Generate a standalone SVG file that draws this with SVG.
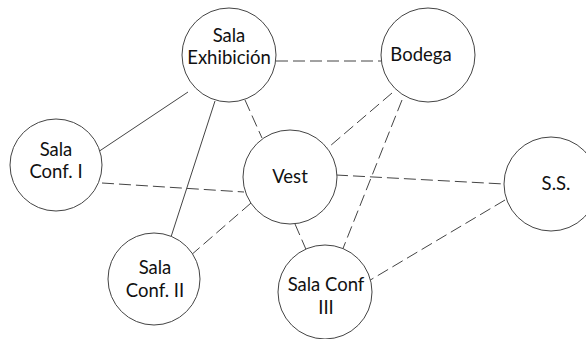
<svg xmlns="http://www.w3.org/2000/svg" width="586" height="339" viewBox="0 0 586 339">
<style>
.n{fill:#fff;stroke:#444;stroke-width:1}
.t{font-family:Lato,"Open Sans",sans-serif;font-size:18.5px;fill:#111;text-anchor:middle}
.s{stroke:#444;stroke-width:1;fill:none}
.d{stroke:#444;stroke-width:1;fill:none;stroke-dasharray:12 5}
</style>
<rect width="586" height="339" fill="#fff"/>
<g id="edges">
<line class="d" x1="276" y1="61" x2="381" y2="61"/>
<line class="s" x1="188" y1="92" x2="98" y2="152"/>
<line class="s" x1="215" y1="101" x2="170" y2="240"/>
<line class="d" x1="245" y1="100" x2="262" y2="138"/>
<line class="d" x1="392" y1="93" x2="323" y2="152"/>
<line class="d" x1="402" y1="100" x2="342" y2="251"/>
<line class="d" x1="102" y1="183" x2="244" y2="192"/>
<line class="d" x1="336" y1="175" x2="504" y2="184"/>
<line class="d" x1="251" y1="203" x2="190" y2="256"/>
<line class="d" x1="295" y1="224" x2="308" y2="254"/>
<line class="d" x1="505" y1="200" x2="367" y2="282"/>
</g>
<g id="exhibicion"><circle class="n" cx="229" cy="55" r="47"/><text class="t" x="229" y="42">Sala</text><text class="t" x="229" y="64">Exhibición</text></g>
<g id="bodega"><circle class="n" cx="428" cy="55" r="47"/><text class="t" x="421" y="61">Bodega</text></g>
<g id="conf1"><circle class="n" cx="56" cy="165" r="46"/><text class="t" x="56" y="156">Sala</text><text class="t" x="56" y="178">Conf. I</text></g>
<g id="vest"><circle class="n" cx="290" cy="177" r="47"/><text class="t" x="290" y="183">Vest</text></g>
<g id="ss"><circle class="n" cx="551" cy="184" r="47"/><text class="t" x="556" y="190">S.S.</text></g>
<g id="conf2"><circle class="n" cx="154" cy="279" r="46"/><text class="t" x="155" y="274">Sala</text><text class="t" x="155" y="297">Conf. II</text></g>
<g id="conf3"><circle class="n" cx="325" cy="292" r="47"/><text class="t" x="326" y="291">Sala Conf</text><text class="t" x="326" y="314">III</text></g>
</svg>
